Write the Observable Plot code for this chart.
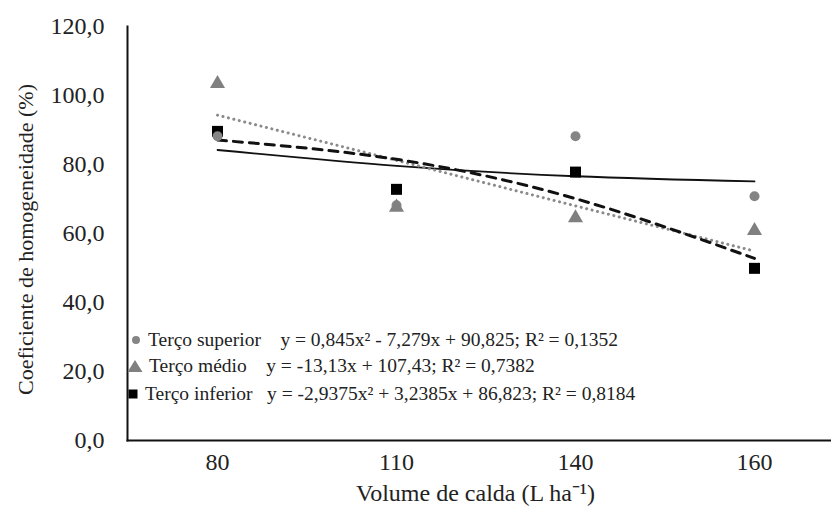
<!DOCTYPE html>
<html><head><meta charset="utf-8">
<script src="https://cdn.jsdelivr.net/npm/d3@7"></script>
<script src="https://cdn.jsdelivr.net/npm/@observablehq/plot@0.6"></script>
<style>
body{margin:0;background:#fff;}
#wrap{position:relative;width:831px;height:506px;font-family:"Liberation Serif","Times New Roman",serif;color:#222;}
#legend{position:absolute;left:0;top:0;font-size:19.5px;}
.row{position:absolute;white-space:pre;display:flex;align-items:center;height:24px;}
.row svg{display:block;margin-right:6px;}
</style></head><body>
<div id="wrap"><div id="chart"></div><div id="legend"></div></div>
<script>
const categories = ["80", "110", "140", "160"];
const superior = [88.2, 68.2, 88.2, 70.8];
const medio = [103.4, 67.6, 64.5, 60.8];
const inferior = [89.6, 72.8, 77.8, 49.9];
const trendSuperior = [84.2, 79.6, 76.6, 75.1];
const trendMedio = [94.3, 81.2, 68.0, 54.9];
const trendInferior = [87.1, 81.5, 70.1, 52.8];
const yTicks = [0, 20, 40, 60, 80, 100, 120];
const seriesNames = ["Terço superior", "Terço médio", "Terço inferior"];
const equations = [
  "y = 0,845x² - 7,279x + 90,825; R² = 0,1352",
  "y = -13,13x + 107,43; R² = 0,7382",
  "y = -2,9375x² + 3,2385x + 86,823; R² = 0,8184"
];
const xTitle = "Volume de calda (L ha⁻¹)";
const yTitle = "Coeficiente de homogeneidade (%)";

const rows = (vals) => categories.map((c, i) => ({x: c, y: vals[i]}));
const fmt = d => d.toFixed(1).replace(".", ",");

const plot = Plot.plot({
  width: 831, height: 506,
  marginLeft: 127, marginRight: 0, marginTop: 26, marginBottom: 66,
  style: {fontFamily: "'Liberation Serif', serif", color: "#222", background: "#fff", overflow: "visible"},
  x: {type: "point", domain: categories, range: [217, 754], padding: 0},
  y: {domain: [0, 120]},
  marks: [
    Plot.axisY(yTicks, {tickSize: 0, tickPadding: 23, tickFormat: fmt, label: null, fontSize: 24}),
    Plot.axisX({tickSize: 0, tickPadding: 12, label: null, fontSize: 24}),
    Plot.frame({anchor: "left", stroke: "#111", strokeWidth: 2}),
    Plot.frame({anchor: "bottom", stroke: "#111", strokeWidth: 2}),
    Plot.text([yTitle], {frameAnchor: "left", dx: -102, dy: 6, rotate: -90, textAnchor: "middle", lineAnchor: "middle", fontSize: 22, fill: "#222"}),
    Plot.text([xTitle], {frameAnchor: "bottom", dx: -4, dy: 53, textAnchor: "middle", lineAnchor: "middle", fontSize: 24, fill: "#222"}),
    Plot.line(rows(trendSuperior), {x: "x", y: "y", stroke: "#111", strokeWidth: 1.8, curve: "natural"}),
    Plot.line(rows(trendMedio), {x: "x", y: "y", stroke: "#8a8a8a", strokeWidth: 3, strokeDasharray: "0.1,5.5", strokeLinecap: "round", curve: "natural"}),
    Plot.line(rows(trendInferior), {x: "x", y: "y", stroke: "#111", strokeWidth: 3, strokeDasharray: "9,7", curve: "natural"}),
    Plot.dot(rows(inferior), {x: "x", y: "y", symbol: "square", r: 6.2, fill: "#000"}),
    Plot.dot(rows(superior), {x: "x", y: "y", symbol: "circle", r: 5, fill: "#858585"}),
    Plot.dot(rows(medio), {x: "x", y: "y", symbol: "triangle", r: 5.6, fill: "#808080"})
  ]
});
document.getElementById("chart").append(plot);

const markerSvg = [
  '<svg width="12" height="12"><circle cx="6" cy="6" r="4" fill="#858585"/></svg>',
  '<svg width="16" height="14"><polygon points="8,1 15.5,13 0.5,13" fill="#808080"/></svg>',
  '<svg width="12" height="12"><rect x="1.5" y="1.5" width="9" height="9" fill="#000"/></svg>'
];
const legendTops = [328, 354, 382];
const legendLefts = [130, 127, 127];
const gaps = ["    ", "    ", "   "];
const legend = document.getElementById("legend");
seriesNames.forEach((n, i) => {
  const r = document.createElement("div");
  r.className = "row";
  r.style.top = legendTops[i] + "px";
  r.style.left = legendLefts[i] + "px";
  r.innerHTML = markerSvg[i] + "<span>" + n + gaps[i] + equations[i] + "</span>";
  legend.append(r);
});
</script>
</body></html>
